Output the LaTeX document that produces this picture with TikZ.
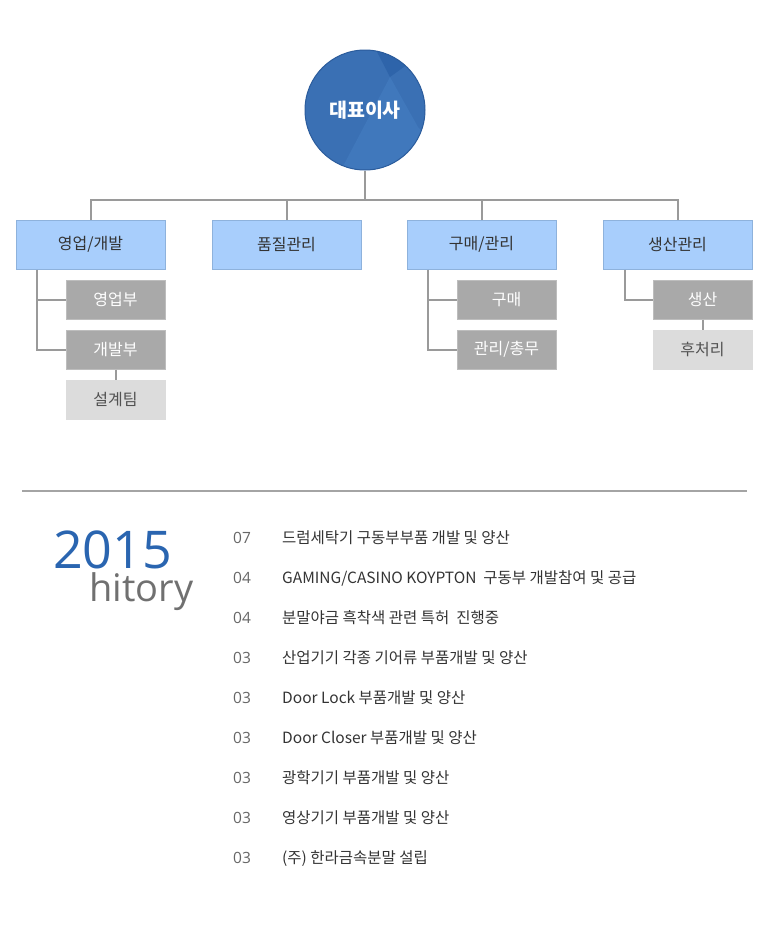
\documentclass[tikz,border=0pt]{standalone}
\usepackage{fontspec}
\setmainfont{Noto Sans CJK KR}
\newfontfamily\latinfont{Open Sans}
\usetikzlibrary{calc}
\definecolor{ceoblue}{HTML}{3A70B4}
\definecolor{ceodark}{HTML}{2E64AA}
\definecolor{ceolight}{HTML}{4078BC}
\definecolor{ceoborder}{HTML}{2B5C9C}
\definecolor{deptfill}{HTML}{A8CEFC}
\definecolor{deptborder}{HTML}{8EB2DC}
\definecolor{subfill}{HTML}{A9A9A9}
\definecolor{subborder}{HTML}{BDBDBD}
\definecolor{leaffill}{HTML}{DCDCDC}
\definecolor{linegray}{HTML}{9A9A9A}
\definecolor{txtdark}{HTML}{333333}
\definecolor{yearblue}{HTML}{2A65B0}
\definecolor{histgray}{HTML}{707070}
\definecolor{numgray}{HTML}{666666}
\tikzset{
  dept/.style={draw=deptborder, fill=deptfill, line width=1pt, minimum width=149pt, minimum height=49pt, inner sep=0pt, font=\fontsize{16}{19}\selectfont, text=txtdark},
  subbox/.style={draw=subborder, fill=subfill, line width=1pt, minimum width=99pt, minimum height=39pt, inner sep=0pt, font=\fontsize{16}{19}\selectfont, text=white},
  leafbox/.style={draw=leaffill, fill=leaffill, line width=1pt, minimum width=99pt, minimum height=39pt, inner sep=0pt, font=\fontsize{16}{19}\selectfont, text=txtdark!85},
  conn/.style={draw=linegray, line width=2pt},
  yrnum/.style={anchor=base west, inner sep=0pt, font=\latinfont\fontsize{15.5}{17}\selectfont, text=numgray},
  yrtxt/.style={anchor=base west, inner sep=0pt, font=\fontsize{15.5}{17}\selectfont, text=txtdark},
}
\begin{document}
\begin{tikzpicture}[x=1pt,y=-1pt]
\useasboundingbox (0,0) rectangle (767,927);
% CEO circle
\begin{scope}
  \clip (365,110) circle (60);
  \fill[ceoblue] (365,110) circle (60);
  \fill[ceodark] (375,48) -- (410,48) -- (408,64) -- (390,77) -- cycle;
  \fill[ceolight] (390,77) -- (340,172) -- (430,172) -- (430,140) -- (418,127) -- cycle;
\end{scope}
\node[circle, draw=ceoborder, line width=1pt, minimum size=120pt, inner sep=0pt, text=white, font=\fontsize{19.5}{22}\selectfont\bfseries] (ceo) at (365,110) {대표이사};
% departments
\node[dept] (d1) at (90.5,244.5) {영업/개발};
\node[dept] (d2) at (286.5,244.5) {품질관리};
\node[dept] (d3) at (481.5,244.5) {구매/관리};
\node[dept] (d4) at (677.5,244.5) {생산관리};
\coordinate (bar) at (365,200);
\draw[conn] (ceo.south) -- (bar);
\draw[conn] (d1.north) -- (d1.north |- bar) -- (d4.north |- bar) -- (d4.north);
\draw[conn] (d2.north) -- (d2.north |- bar);
\draw[conn] (d3.north) -- (d3.north |- bar);
% sub boxes
\node[subbox] (s11) at (115.5,299.5) {영업부};
\node[subbox] (s12) at (115.5,349.5) {개발부};
\node[leafbox] (l12) at (115.5,399.5) {설계팀};
\node[subbox] (s31) at (506.5,299.5) {구매};
\node[subbox] (s32) at (506.5,349.5) {관리/총무};
\node[subbox] (s41) at (702.5,299.5) {생산};
\node[leafbox] (l41) at (702.5,349.5) {후처리};
\coordinate (t1) at ($(d1.south west)+(21,0)$);
\draw[conn] (t1) |- (s12.west);
\draw[conn] (t1 |- s11.west) -- (s11.west);
\draw[conn] (s12.south) -- (l12.north);
\coordinate (t3) at ($(d3.south west)+(21,0)$);
\draw[conn] (t3) |- (s32.west);
\draw[conn] (t3 |- s31.west) -- (s31.west);
\coordinate (t4) at ($(d4.south west)+(22,0)$);
\draw[conn] (t4) |- (s41.west);
\draw[conn] (s41.south) -- (l41.north);
% separator
\draw[draw=linegray!90, line width=2pt] (22,491) -- (747,491);
% year
\node[anchor=base west, inner sep=0pt, font=\latinfont\fontsize{52}{56}\selectfont, text=yearblue] (year) at (53,568) {2015};
\node[anchor=base west, inner sep=0pt, font=\latinfont\fontsize{38}{40}\selectfont, text=histgray] (hist) at (89,601) {hitory};
% history list
\node[yrnum] (n1) at (233,543) {07};
\node[yrtxt] (h1) at (282,543) {드럼세탁기 구동부부품 개발 및 양산};
\node[yrnum] (n2) at (233,583) {04};
\node[yrtxt] (h2) at (282,583) {GAMING/CASINO KOYPTON\ \ 구동부 개발참여 및 공급};
\node[yrnum] (n3) at (233,623) {04};
\node[yrtxt] (h3) at (282,623) {분말야금 흑착색 관련 특허\ \ 진행중};
\node[yrnum] (n4) at (233,663) {03};
\node[yrtxt] (h4) at (282,663) {산업기기 각종 기어류 부품개발 및 양산};
\node[yrnum] (n5) at (233,703) {03};
\node[yrtxt] (h5) at (282,703) {Door Lock 부품개발 및 양산};
\node[yrnum] (n6) at (233,743) {03};
\node[yrtxt] (h6) at (282,743) {Door Closer 부품개발 및 양산};
\node[yrnum] (n7) at (233,783) {03};
\node[yrtxt] (h7) at (282,783) {광학기기 부품개발 및 양산};
\node[yrnum] (n8) at (233,823) {03};
\node[yrtxt] (h8) at (282,823) {영상기기 부품개발 및 양산};
\node[yrnum] (n9) at (233,863) {03};
\node[yrtxt] (h9) at (282,863) {(주) 한라금속분말 설립};
\end{tikzpicture}
\end{document}
